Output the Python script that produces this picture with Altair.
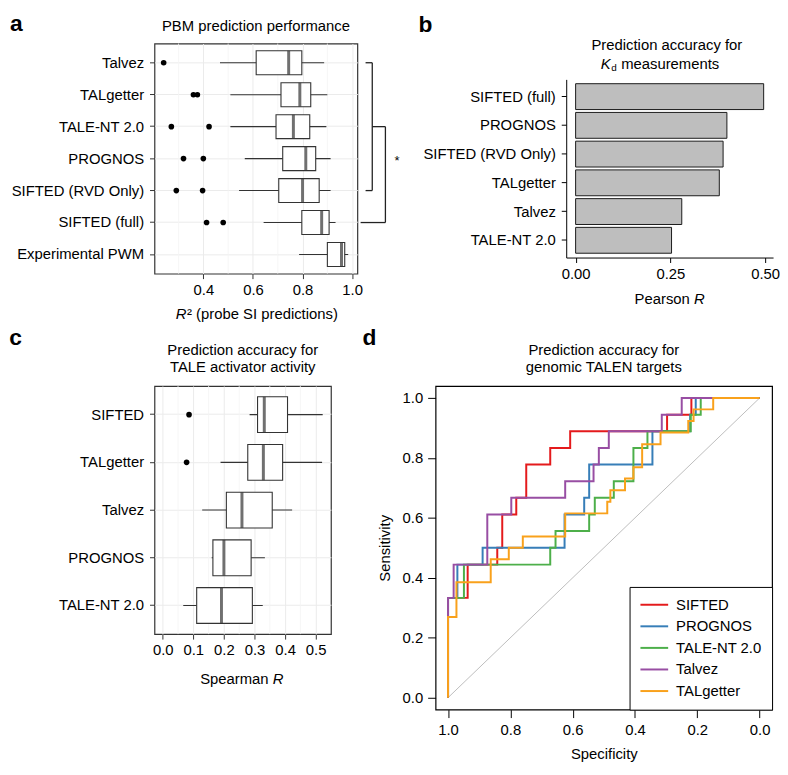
import altair as alt
import pandas as pd

FONT = "Liberation Sans"

# ---------------- data ----------------
# Panel a: PBM prediction performance (R^2 of probe SI predictions)
a_methods = ["Talvez", "TALgetter", "TALE-NT 2.0", "PROGNOS",
             "SIFTED (RVD Only)", "SIFTED (full)", "Experimental PWM"]
a_low = [0.467, 0.509, 0.509, 0.567, 0.544, 0.643, 0.786]
a_q1 = [0.613, 0.713, 0.693, 0.720, 0.704, 0.797, 0.900]
a_med = [0.744, 0.789, 0.763, 0.813, 0.800, 0.877, 0.957]
a_q3 = [0.797, 0.833, 0.829, 0.853, 0.867, 0.907, 0.970]
a_high = [0.887, 0.900, 0.896, 0.913, 0.913, 0.933, 0.984]
a_out_method = ["Talvez", "TALgetter", "TALgetter", "TALE-NT 2.0", "TALE-NT 2.0",
                "PROGNOS", "PROGNOS", "SIFTED (RVD Only)", "SIFTED (RVD Only)",
                "SIFTED (full)", "SIFTED (full)"]
a_out_value = [0.240, 0.360, 0.376, 0.271, 0.423, 0.320, 0.400, 0.291, 0.397, 0.413, 0.480]
a_ticks = [0.4, 0.6, 0.8, 1.0]
a_minor = [0.3, 0.5, 0.7, 0.9]

# Panel b: Pearson R for Kd measurements
b_methods = ["SIFTED (full)", "PROGNOS", "SIFTED (RVD Only)", "TALgetter", "Talvez", "TALE-NT 2.0"]
b_r = [0.496, 0.399, 0.389, 0.379, 0.280, 0.253]
b_ticks = [0.0, 0.25, 0.5]

# Panel c: Spearman R for TALE activator activity
c_methods = ["SIFTED", "TALgetter", "Talvez", "PROGNOS", "TALE-NT 2.0"]
c_low = [0.284, 0.189, 0.129, 0.160, 0.067]
c_q1 = [0.310, 0.278, 0.208, 0.164, 0.111]
c_med = [0.332, 0.329, 0.259, 0.200, 0.192]
c_q3 = [0.408, 0.392, 0.358, 0.289, 0.293]
c_high = [0.523, 0.521, 0.423, 0.334, 0.327]
c_out_method = ["SIFTED", "TALgetter"]
c_out_value = [0.086, 0.078]
c_ticks = [0.0, 0.1, 0.2, 0.3, 0.4, 0.5]
c_minor = [0.05, 0.15, 0.25, 0.35, 0.45]

# Panel d: ROC curves (corner points: specificity, sensitivity)
d_methods = ["SIFTED", "PROGNOS", "TALE-NT 2.0", "Talvez", "TALgetter"]
d_colors = ["#E41A1C", "#377EB8", "#4DAF4A", "#984EA3", "#F9A11B"]
roc_spec = {
    "SIFTED": [1.0, 1.0, 0.937, 0.842, 0.826, 0.781, 0.749, 0.672, 0.608, 0.297, 0.219, 0.0],
    "PROGNOS": [1.0, 1.0, 0.970, 0.889, 0.626, 0.563, 0.547, 0.344, 0.223, 0.205, 0.0],
    "TALE-NT 2.0": [1.0, 1.0, 0.949, 0.672, 0.655, 0.547, 0.529, 0.468, 0.405, 0.360, 0.221, 0.189, 0.0],
    "Talvez": [1.0, 1.0, 0.982, 0.874, 0.797, 0.624, 0.533, 0.516, 0.484, 0.314, 0.250, 0.0],
    "TALgetter": [1.0, 1.0, 0.973, 0.863, 0.805, 0.760, 0.624, 0.489, 0.479, 0.432, 0.405,
                  0.377, 0.318, 0.229, 0.212, 0.149, 0.0],
}
roc_sens = {
    "SIFTED": [0.0, 0.333, 0.444, 0.500, 0.611, 0.667, 0.778, 0.833, 0.889, 0.944, 1.0, 1.0],
    "PROGNOS": [0.0, 0.333, 0.444, 0.500, 0.611, 0.667, 0.778, 0.889, 0.944, 1.0, 1.0],
    "TALE-NT 2.0": [0.0, 0.333, 0.444, 0.500, 0.556, 0.611, 0.667, 0.722, 0.833, 0.889, 0.944, 1.0, 1.0],
    "Talvez": [0.0, 0.333, 0.444, 0.611, 0.667, 0.722, 0.778, 0.833, 0.889, 0.944, 1.0, 1.0],
    "TALgetter": [0.0, 0.269, 0.385, 0.462, 0.500, 0.538, 0.615, 0.654, 0.692, 0.731, 0.769,
                  0.846, 0.885, 0.923, 0.962, 1.0, 1.0],
}
d_ticks = [1.0, 0.8, 0.6, 0.4, 0.2, 0.0]
diag_spec = [1.0, 0.0]
diag_sens = [0.0, 1.0]

# ---------------- helpers ----------------
A_W, A_H = 205, 232.5
C_W, C_H = 178.3, 250.7
D_W, D_H = 340, 327
B_W, B_H = D_W, 216.2

GRID = "#EBEBEB"
MINOR = "#F4F4F4"
FRAME = "#333333"


def txt(text, x, y, size=15, weight="normal", style="normal", align="left"):
    return alt.Chart(pd.DataFrame({"t": [text]})).mark_text(
        font=FONT, fontSize=size, fontWeight=weight, fontStyle=style,
        align=align, baseline="alphabetic", color="black"
    ).encode(text="t:N", x=alt.value(x), y=alt.value(y))


def box_panel(methods, low, q1, med, q3, high, out_m, out_v, domain, ticks, minor,
              height, fmt):
    df = pd.DataFrame({"method": methods, "low": low, "q1": q1, "med": med,
                       "q3": q3, "high": high})
    dfo = pd.DataFrame({"method": out_m, "value": out_v})
    xs = alt.Scale(domain=domain, nice=False, zero=False)
    ys = alt.Scale(domain=methods, paddingInner=0, paddingOuter=0.1)
    yax = alt.Axis(title=None, labelFontSize=15, labelColor="black", tickColor=FRAME,
                   tickSize=5, labelPadding=6, domain=False, grid=True, gridColor=GRID,
                   gridWidth=1, labelLimit=300)
    xax = alt.Axis(values=ticks, format=fmt, title=None, labelFontSize=15,
                   labelColor="black", tickColor=FRAME, tickSize=5, labelPadding=4,
                   domain=False, grid=True, gridColor=GRID, gridWidth=1)

    def X(f):
        return alt.X(f, scale=xs, axis=xax, title=None)

    def Y():
        return alt.Y("method:N", scale=ys, axis=yax, sort=methods, title=None)

    minor_layer = alt.Chart(pd.DataFrame({"v": minor})).mark_rule(
        color=MINOR, strokeWidth=0.8
    ).encode(x=X("v:Q"))
    whisk = alt.Chart(df).mark_rule(color=FRAME, strokeWidth=1.1).encode(
        x=X("low:Q"), x2="high:Q", y=Y())
    box = alt.Chart(df).mark_bar(height={"band": 0.75}, fill="white", stroke=FRAME,
                                 strokeWidth=1.1).encode(x=X("q1:Q"), x2="q3:Q", y=Y())
    medl = alt.Chart(df).mark_tick(orient="vertical", thickness=3, color=FRAME,
                                   size=0.75 * height / (len(methods) + 0.2)).encode(
        x=X("med:Q"), y=Y())
    outl = alt.Chart(dfo).mark_circle(size=32, color="black", opacity=1).encode(
        x=X("value:Q"), y=Y())
    return [minor_layer, whisk, box, medl, outl], xs, ys, xax, yax


# ---------------- panel a ----------------
layers_a, xs_a, ys_a, xax_a, yax_a = box_panel(
    a_methods, a_low, a_q1, a_med, a_q3, a_high, a_out_method, a_out_value,
    [0.203, 1.021], a_ticks, a_minor, A_H, ".1f")
one = pd.DataFrame({"k": [0]})
br = dict(color="#222222", strokeWidth=1.3)


def bx(v):
    return alt.XDatum(v, scale=xs_a, axis=xax_a, title=None)


def by(v):
    return alt.YDatum(v, scale=ys_a, axis=yax_a, title=None)


bracket = [
    alt.Chart(one).mark_rule(**br).encode(x=bx(1.081), y=by("Talvez"),
                                          y2=alt.datum("SIFTED (RVD Only)")),
    alt.Chart(one).mark_rule(**br).encode(x=bx(1.054), x2=alt.datum(1.081), y=by("Talvez")),
    alt.Chart(one).mark_rule(**br).encode(x=bx(1.054), x2=alt.datum(1.081),
                                          y=by("SIFTED (RVD Only)")),
    alt.Chart(one).mark_rule(**br).encode(x=bx(1.134), y=by("TALE-NT 2.0"),
                                          y2=alt.datum("SIFTED (full)")),
    alt.Chart(one).mark_rule(**br).encode(x=bx(1.081), x2=alt.datum(1.134),
                                          y=by("TALE-NT 2.0")),
    alt.Chart(one).mark_rule(**br).encode(x=bx(1.034), x2=alt.datum(1.134),
                                          y=by("SIFTED (full)")),
    alt.Chart(pd.DataFrame({"t": ["*"]})).mark_text(font=FONT, fontSize=13, color="black",
                                                    baseline="middle").encode(
        text="t:N", x=bx(1.181), y=by("PROGNOS"), yOffset=alt.value(19)),
]
a_split = A_W / 2 + 0.8 - 70.9
panel_a = alt.layer(
    *layers_a, *bracket,
    txt("a", -146, -12.5, size=23, weight="bold"),
    txt("PBM prediction performance", A_W / 2, -13.1, align="center"),
    txt("R", a_split, A_H + 45.7, style="italic", align="right"),
    txt("² (probe SI predictions)", a_split + 0.5, A_H + 45.7),
).properties(width=A_W, height=A_H,
             view=alt.ViewBackground(stroke=FRAME, strokeWidth=1.2))

# ---------------- panel b ----------------
df_b = pd.DataFrame({"method": b_methods, "r": b_r})
B_X0 = 132.0
B_X1 = 341.0
bars = alt.Chart(df_b).mark_bar(fill="#BEBEBE", stroke="#1A1A1A", strokeWidth=1).encode(
    x=alt.X("r:Q", scale=alt.Scale(domain=[-0.0248, 0.5208], range=[B_X0, B_X1], nice=False,
                                   zero=False),
            axis=alt.Axis(values=b_ticks, format=".2f", title=None, labelFontSize=15,
                          labelColor="black", domainColor="black", tickColor="black",
                          tickSize=5, labelPadding=4, grid=False)),
    x2=alt.datum(0),
    y=alt.Y("method:N", sort=b_methods,
            scale=alt.Scale(domain=b_methods, paddingInner=0.1, paddingOuter=0.15,
                            range=[B_H - 180, B_H]),
            axis=alt.Axis(title=None, offset=-B_X0, labelFontSize=15, labelColor="black",
                          domainColor="black", tickColor="black", tickSize=5,
                          labelPadding=6, grid=False, labelLimit=300)),
)
b_split = (B_X0 + B_X1) / 2 + 24.6
panel_b = alt.layer(
    bars,
    txt("b", -17.2, -11.5, size=23, weight="bold"),
    txt("Prediction accuracy for", 233.7, 6.9, align="center"),
    txt("K", 167, 25.2, style="italic"),
    txt("d", 177.5, 28.2, size=10),
    txt("measurements", 187.5, 25.2),
    txt("Pearson", b_split - 4.2, B_H + 46.5, align="right"),
    txt("R", b_split, B_H + 46.5, style="italic"),
).properties(width=B_W, height=B_H,
             view=alt.ViewBackground(stroke="transparent", strokeWidth=0))

# ---------------- panel c ----------------
layers_c, xs_c, ys_c, xax_c, yax_c = box_panel(
    c_methods, c_low, c_q1, c_med, c_q3, c_high, c_out_method, c_out_value,
    [-0.027, 0.55], c_ticks, c_minor, C_H, ".1f")
c_split = C_W / 2 - 1 + 31.3
panel_c = alt.layer(
    *layers_c,
    txt("c", -146.7, -41.3, size=23, weight="bold"),
    txt("Prediction accuracy for", C_W / 2, -31.3, align="center"),
    txt("TALE activator activity", C_W / 2, -14.5, align="center"),
    txt("Spearman", c_split - 4.2, C_H + 50, align="right"),
    txt("R", c_split, C_H + 50, style="italic"),
).properties(width=C_W, height=C_H,
             view=alt.ViewBackground(stroke=FRAME, strokeWidth=1.2))

# ---------------- panel d ----------------
rows = []
for m in d_methods:
    for i, (s, t) in enumerate(zip(roc_spec[m], roc_sens[m])):
        rows.append({"method": m, "i": i, "spec": s, "sens": t})
df_d = pd.DataFrame(rows)
xs_d = alt.Scale(domain=[-0.04, 1.04], reverse=True, nice=False, zero=False)
ys_d = alt.Scale(domain=[-0.04, 1.04], nice=False, zero=False)
xax_d = alt.Axis(values=d_ticks, format=".1f", title="Specificity", labelFontSize=15,
                 labelColor="black", tickColor="black", tickSize=8, labelPadding=5,
                 domain=False, grid=False, titleFontSize=15, titleFontWeight="normal",
                 titleColor="black", titlePadding=9)
yax_d = alt.Axis(values=d_ticks, format=".1f", title="Sensitivity", labelFontSize=15,
                 labelColor="black", tickColor="black", tickSize=8, labelPadding=5,
                 domain=False, grid=False, titleFontSize=15, titleFontWeight="normal",
                 titleColor="black", titlePadding=10)
diag = alt.Chart(pd.DataFrame({"spec": diag_spec, "sens": diag_sens})).mark_line(
    color="#BDBDBD", strokeWidth=1).encode(
    x=alt.X("spec:Q", scale=xs_d, axis=xax_d, title="Specificity"),
    y=alt.Y("sens:Q", scale=ys_d, axis=yax_d, title="Sensitivity"))
curves = alt.Chart(df_d).mark_line(interpolate="step-after", strokeWidth=2).encode(
    x=alt.X("spec:Q", scale=xs_d, axis=xax_d, title="Specificity"),
    y=alt.Y("sens:Q", scale=ys_d, axis=yax_d, title="Sensitivity"),
    color=alt.Color("method:N", sort=d_methods,
                    scale=alt.Scale(domain=d_methods, range=d_colors),
                    legend=alt.Legend(orient="bottom-right", offset=0, title=None,
                                      symbolType="M-2,0L2,0", symbolSize=196,
                                      symbolStrokeWidth=2, symbolOffset=7,
                                      labelFontSize=15, labelFont=FONT,
                                      labelColor="black", strokeColor="black",
                                      fillColor="white", padding=10, rowPadding=5.8,
                                      labelOffset=14)),
    order=alt.Order("i:Q"),
)
panel_d = alt.layer(
    diag, curves,
    txt("d", -73.8, -41.3, size=23, weight="bold"),
    txt("Prediction accuracy for", D_W / 2, -31.3, align="center"),
    txt("genomic TALEN targets", D_W / 2, -14.5, align="center"),
).properties(width=D_W, height=D_H,
             view=alt.ViewBackground(stroke="black", strokeWidth=1.2))

chart = alt.concat(
    panel_a, panel_b, panel_c, panel_d, columns=2, bounds="flush",
    spacing=alt.RowColnumber(row=113, column=79),
).resolve_scale(color="independent").properties(
    padding={"left": 0, "top": 0, "right": 0, "bottom": 0}, background="white"
).configure_axis(labelFont=FONT, titleFont=FONT).configure_text(font=FONT).configure_legend(
    labelFont=FONT)

chart.save("out.html", embed_options={"renderer": "svg", "actions": False})
